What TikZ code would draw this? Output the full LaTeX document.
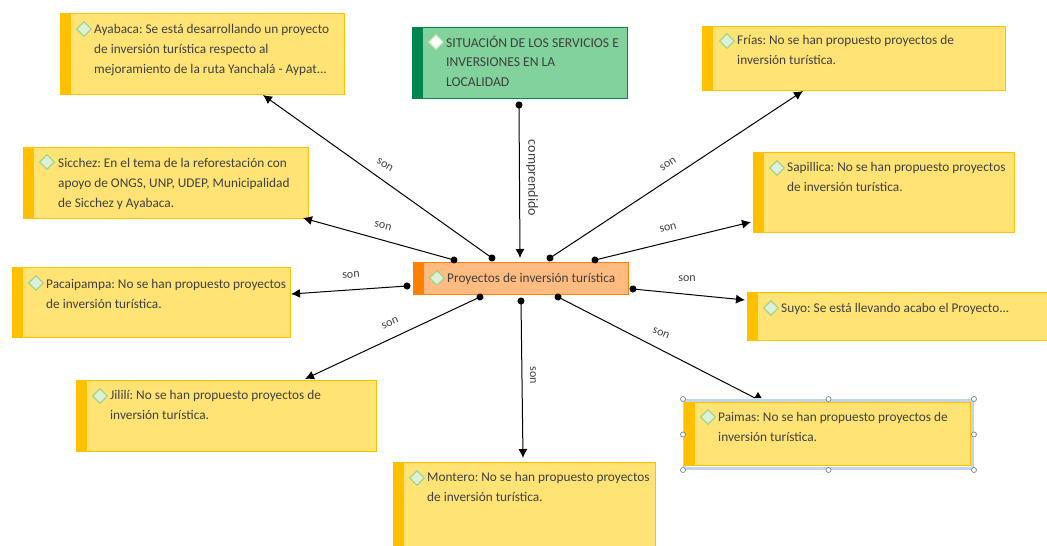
\documentclass[tikz,border=0pt]{standalone}
\usepackage{fontspec}
\setmainfont{Carlito}
\usetikzlibrary{arrows.meta,shapes.geometric}
\definecolor{noteyellow}{RGB}{255, 227, 117}
\definecolor{noteamber}{RGB}{255, 192, 0}
\definecolor{mainorange}{RGB}{255, 187, 128}
\definecolor{mainbar}{RGB}{255, 128, 0}
\definecolor{titlegreen}{RGB}{130, 210, 156}
\definecolor{titlebar}{RGB}{0, 134, 78}
\definecolor{inktext}{RGB}{64, 64, 64}
\definecolor{gemfill}{RGB}{221, 240, 216}
\definecolor{gemline}{RGB}{165, 214, 143}
\definecolor{pickframe}{RGB}{197, 213, 232}
\tikzset{
  barbox/.style={rectangle,anchor=north west,inner sep=0pt,line width=1pt,
    path picture={\fill[#1] (path picture bounding box.north west) rectangle ([xshift=10.5pt]path picture bounding box.south west);}},
  notebox/.style={barbox=noteamber,draw=noteamber,fill=noteyellow},
  notetext/.style={anchor=north west,inner sep=0pt,align=left,text=inktext,font=\fontsize{13.3}{19.8}\selectfont\frenchspacing},
  gem/.style={diamond,draw=gemline,fill=gemfill,line width=1.3pt,inner sep=0pt,minimum width=15pt,minimum height=15pt},
  link/.style={black,line width=1pt,{Circle[length=7pt]}-{Latex[length=9pt,width=9pt]},shorten <=-3.5pt},
  linklabel/.style={inner sep=0pt,text=inktext,font=\fontsize{12}{12}\selectfont},
}
\begin{document}
\begin{tikzpicture}[x=1pt,y=-1pt]
  \useasboundingbox (0,0) rectangle (1047,546);

  % Connectors
  \coordinate (pickmark) at (758,392);

  % Title
  \node[barbox=titlebar,draw=titlebar,fill=titlegreen,minimum width=215pt,minimum height=71pt] (situacion) at (412,27) {};
  \node[gem,draw=gemline!60,fill=white] (situaciongem) at (436,42) {};
  \node[notetext,font=\fontsize{13.6}{19.8}\selectfont] (situaciontext) at (446,35.5) {SITUACIÓN DE LOS SERVICIOS E\\INVERSIONES EN LA\\LOCALIDAD};

  % Main box
  \node[barbox=mainbar,draw=mainbar,fill=mainorange,minimum width=215pt,minimum height=32pt] (proyectos) at (413,262) {};
  \node[gem] (proyectosgem) at (437,278) {};
  \node[notetext] (proyectostext) at (447,273.5) {Proyectos de inversión turística};

  % Notes on the left
  \node[notebox,minimum width=284pt,minimum height=81pt] (ayabaca) at (60,13) {};
  \node[gem] (ayabacagem) at (84,29) {};
  \node[notetext] (ayabacatext) at (94,24) {Ayabaca: Se está desarrollando un proyecto\\de inversión turística respecto al\\mejoramiento de la ruta Yanchalá - Aypat...};

  \node[notebox,minimum width=285pt,minimum height=71pt] (sicchez) at (23,147) {};
  \node[gem] (sicchezgem) at (47,162) {};
  \node[notetext] (sicchezntext) at (58,158) {Sicchez: En el tema de la reforestación con\\apoyo de ONGS, UNP, UDEP, Municipalidad\\de Sicchez y Ayabaca.};

  \node[notebox,minimum width=278pt,minimum height=70pt] (pacaipampa) at (12,267) {};
  \node[gem] (pacaipampagem) at (36,283) {};
  \node[notetext] (pacaipampatext) at (46,279) {Pacaipampa: No se han propuesto proyectos\\de inversión turística.};

  \node[notebox,minimum width=300pt,minimum height=71pt] (jilili) at (76,380) {};
  \node[gem] (jililigem) at (100,396) {};
  \node[notetext] (jililitext) at (110,390.5) {Jililí: No se han propuesto proyectos de\\inversión turística.};

  % Notes at the bottom and on the right
  \node[notebox,minimum width=262pt,minimum height=84pt] (montero) at (393,462) {};
  \node[gem] (monterogem) at (417,478) {};
  \node[notetext] (monterotext) at (427,472) {Montero: No se han propuesto proyectos\\de inversión turística.};

  \node[notebox,minimum width=303pt,minimum height=64pt] (frias) at (702,26) {};
  \node[gem] (friasgem) at (727,41) {};
  \node[notetext] (friastext) at (737,35.5) {Frías: No se han propuesto proyectos de\\inversión turística.};

  \node[notebox,minimum width=261pt,minimum height=80pt] (sapillica) at (753,152) {};
  \node[gem] (sapillicagem) at (777,168) {};
  \node[notetext] (sapillicatext) at (787,162.5) {Sapillica: No se han propuesto proyectos\\de inversión turística.};

  \node[notebox,minimum width=301pt,minimum height=48pt] (suyo) at (747,292) {};
  \node[gem] (suyogem) at (771,308) {};
  \node[notetext] (suyotext) at (781,303) {Suyo: Se está llevando acabo el Proyecto...};

  % Links
  \draw[link] ([shift={(107,78)}]situacion.north west) -- ([shift={(107,-4)}]proyectos.north west);
  \draw[link] ([shift={(79,-4)}]proyectos.north west) -- ([shift={(203,82)}]ayabaca.north west);
  \draw[link] ([shift={(41,-2)}]proyectos.north west) -- ([shift={(280,71)}]sicchez.north west);
  \draw[link] ([shift={(137,-4)}]proyectos.north west) -- ([shift={(101,65)}]frias.north west);
  \draw[link] ([shift={(182,-2)}]proyectos.north west) -- ([shift={(-2,70)}]sapillica.north west);
  \draw[link] ([shift={(-6,24)}]proyectos.north west) -- ([shift={(279,27)}]pacaipampa.north west);
  \draw[link] ([shift={(67,35)}]proyectos.north west) -- ([shift={(229,-1)}]jilili.north west);
  \draw[link] ([shift={(108,39)}]proyectos.north west) -- ([shift={(130,-4)}]montero.north west);
  \draw[link] ([shift={(220,27)}]proyectos.north west) -- ([shift={(-2,8)}]suyo.north west);

  % Selected note
  \node[rectangle,anchor=north west,draw=pickframe,line width=3pt,minimum width=288pt,minimum height=68pt,inner sep=0pt] (paimasframe) at (683,399) {};
  \draw[black,line width=1pt,{Circle[length=7pt]}-,shorten <=-3.5pt] ([shift={(145,35)}]proyectos.north west) -- ([shift={(-3,6)}]pickmark);
  \fill[black] (pickmark) -- ++(3.5,6) -- ++(-7,0) -- cycle;
  \node[notebox,minimum width=286pt,minimum height=63pt] (paimas) at (684,402) {};
  \node[gem] (paimasgem) at (708,417) {};
  \node[notetext] (paimastext) at (718,412.5) {Paimas: No se han propuesto proyectos de\\inversión turística.};
  \foreach \pos in {north west,north,north east,east,south east,south,south west,west}
    \draw[gray,fill=white,line width=0.7pt] (paimasframe.\pos) circle (2.5);

  % Labels on the links
  \node[linklabel,rotate=-90,font=\fontsize{14}{14}\selectfont] (comprendidolabel) at (532,178) {comprendido};
  \node[linklabel,rotate=-32] (sonayabaca) at (385,165) {son};
  \node[linklabel,rotate=-14] (sonsicchez) at (383,226) {son};
  \node[linklabel,rotate=33] (sonfrias) at (668,164) {son};
  \node[linklabel,rotate=14] (sonsapillica) at (668,228) {son};
  \node[linklabel,rotate=4] (sonpacaipampa) at (351,275) {son};
  \node[linklabel] (sonsuyo) at (687,279) {son};
  \node[linklabel,rotate=-22] (sonpaimas) at (661,333) {son};
  \node[linklabel,rotate=24] (sonjilili) at (390,323) {son};
  \node[linklabel,rotate=-90] (sonmontero) at (533,375) {son};
\end{tikzpicture}
\end{document}
